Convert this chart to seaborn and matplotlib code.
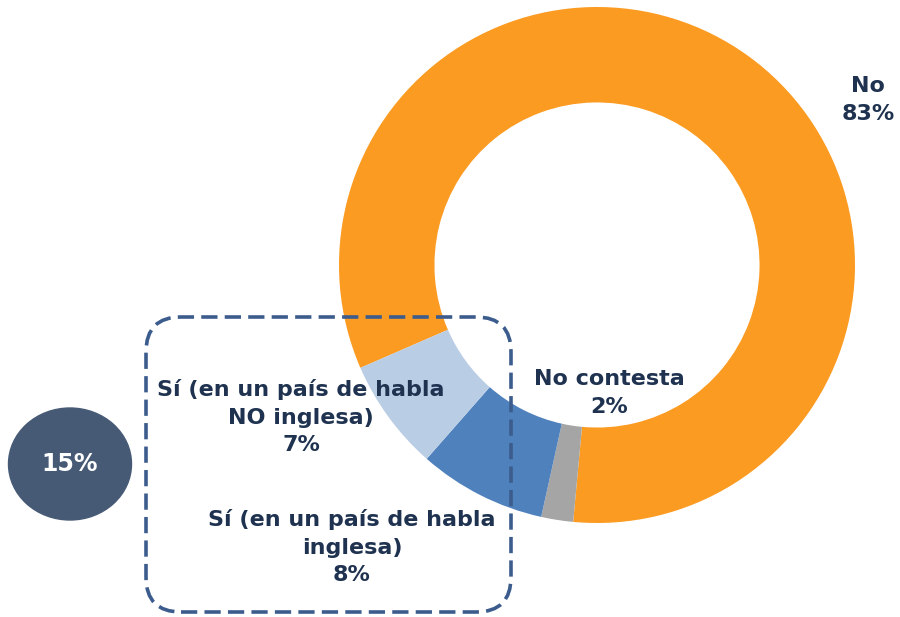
import matplotlib
matplotlib.use("Agg")
import matplotlib.pyplot as plt
import seaborn as sns
from matplotlib.patches import FancyBboxPatch, Ellipse

sns.set_theme(style="white")
plt.rcParams['font.family'] = ['DejaVu Sans']

# Data
categories = ["No", "No contesta", "Sí (en un país de habla\ninglesa)", "Sí (en un país de habla\nNO inglesa)"]
values = [83, 2, 8, 7]
colors = ["#FB9B22", "#A5A5A5", "#4F81BD", "#B9CDE5"]
total_si = 15

text_color = "#1F3350"
box_color = "#3B5C8C"

fig = plt.figure(figsize=(9, 6.17), dpi=100)
ax = fig.add_axes([0, 0, 1, 1])

# donut (coordinates in pixels, y upward)
cx, cy, r = 597, 352, 258
ax.pie(values, colors=colors, startangle=203.5, counterclock=False,
       center=(cx, cy), radius=r,
       wedgeprops=dict(width=r * 0.37, linewidth=0))

ax.set_xlim(0, 900)
ax.set_ylim(0, 617)
ax.set_aspect('equal')
ax.axis('off')

# labels
fs = 16
ls = 1.45
ax.text(868, 517, f"No\n{values[0]}%", ha="center", va="center", fontsize=fs,
        fontweight="bold", color=text_color, linespacing=ls)
ax.text(609, 224, f"No contesta\n{values[1]}%", ha="center", va="center", fontsize=fs,
        fontweight="bold", color=text_color, linespacing=ls)
ax.text(301, 200, f"{categories[3]}\n{values[3]}%", ha="center", va="center", fontsize=fs,
        fontweight="bold", color=text_color, linespacing=ls)
ax.text(352, 70, f"{categories[2]}\n{values[2]}%", ha="center", va="center", fontsize=fs,
        fontweight="bold", color=text_color, linespacing=ls)

# dashed rounded box around the "Sí" group
box = FancyBboxPatch((146, 617 - 612), 365, 295,
                     boxstyle="round,pad=0,rounding_size=35",
                     fill=False, edgecolor=box_color, linewidth=2.6,
                     linestyle=(0, (4.5, 2)), zorder=5)
ax.add_patch(box)

# total bubble
ax.add_patch(Ellipse((70, 617 - 464), 123, 112, color="#465A76", zorder=5))
ax.text(70, 617 - 464, f"{total_si}%", ha="center", va="center", fontsize=17,
        fontweight="bold", color="white", zorder=6)

fig.savefig("out.png", dpi=100)
